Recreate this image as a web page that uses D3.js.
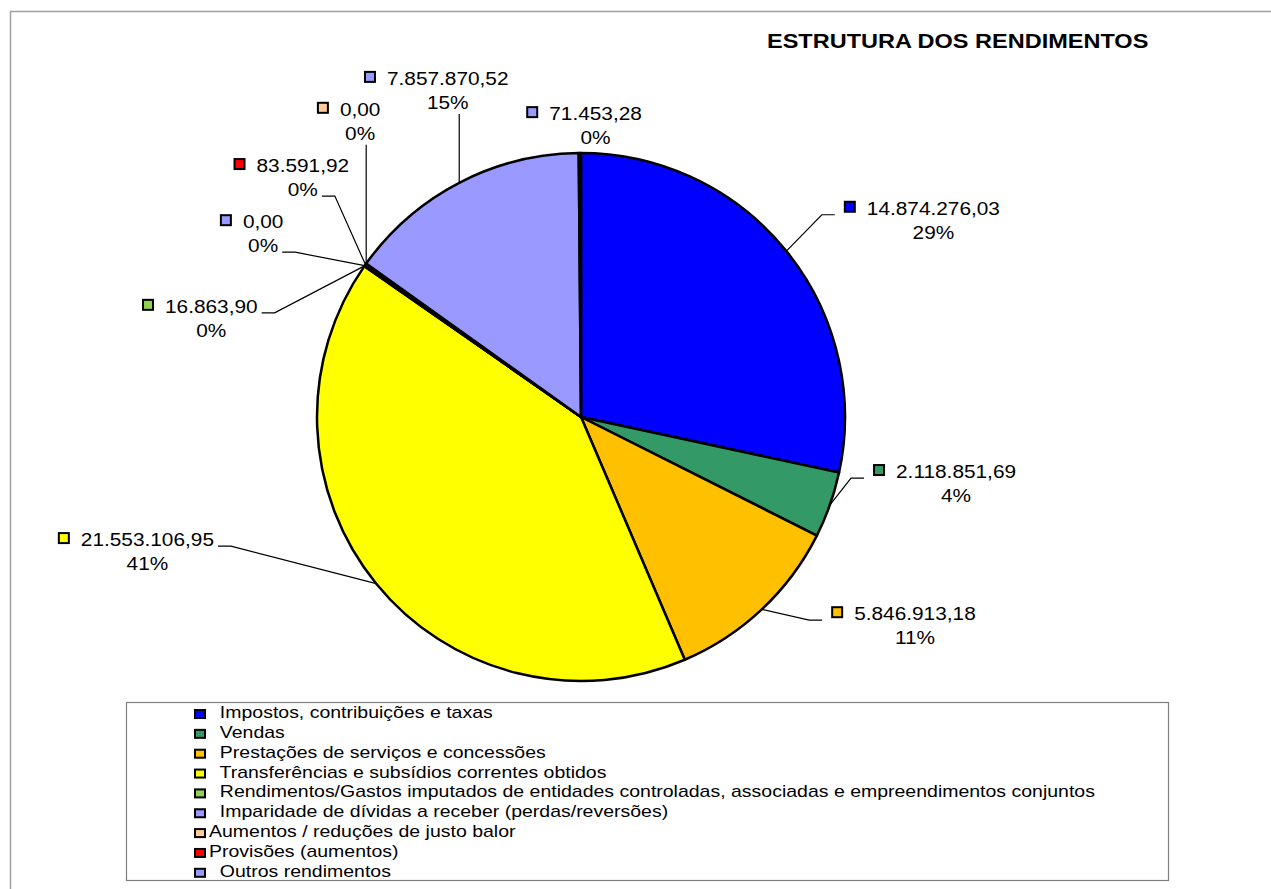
<!DOCTYPE html>
<html>
<head>
<meta charset="utf-8">
<script src="https://cdn.jsdelivr.net/npm/d3@7"></script>
<style>
  body { margin: 0; background: #fff; }
  svg text { font-family: "Liberation Sans", Arial, sans-serif; fill: #000; white-space: pre; }
</style>
</head>
<body>
<div id="chart"></div>
<script>

// slices, in the order they run round the pie (clockwise from 12 o'clock)
var sliceValues = [14874276.03, 2118851.69, 5846913.18, 21553106.95, 16863.90, 0.00, 83591.92, 0.00, 7857870.52, 71453.28];
var sliceColors = ["#0000FF", "#339966", "#FFC000", "#FFFF00", "#92D050", "#9999FF", "#FF0000", "#FFCC99", "#9999FF", "#9999FF"];

// legend entries (the legend box only shows nine of them)
var legendNames = [
    "  Impostos, contribuições e taxas",
    "  Vendas",
    "  Prestações de serviços e concessões",
    "  Transferências e subsídios correntes obtidos",
    "  Rendimentos/Gastos imputados de entidades controladas, associadas e empreendimentos conjuntos",
    "  Imparidade de dívidas a receber (perdas/reversões)",
    "Aumentos / reduções de justo balor",
    "Provisões (aumentos)",
    "  Outros rendimentos"
];
var legendColors = ["#0000FF", "#339966", "#FFC000", "#FFFF00", "#92D050", "#9999FF", "#FFCC99", "#FF0000", "#9999FF"];

var chartTitle = "ESTRUTURA DOS RENDIMENTOS";

// where each data label sits: angle (deg, clockwise from top) and distance in pie radii
var labelAngle = [60.2, 100.6, 123.1, 253.0, 284.3, 298.9, 309.4, 321.7, 336.0, 0.6];
var labelDist  = [1.488, 1.401, 1.458, 1.763, 1.490, 1.425, 1.420, 1.420, 1.348, 1.098];
// which text line a side leader meets (1 = value, 2 = percentage)
var labelHook  = [1, 1, 1, 1, 1, 2, 2, 1, 1, 1];

var params = {
    width: 1271, height: 889,
    cx: 581, cy: 417, radius: 264,
    sx: 1.12,          // text in the original is drawn a little wide
    labelSize: 18.6, legendSize: 17.4, titleSize: 21
};

var pt = d3.formatLocale({decimal: ",", thousands: ".", grouping: [3], currency: ["", ""]});
var fmt = pt.format(",.2f");

// excel style percentages: largest remainder so they add up to 100
function roundPercents(vals) {
    var total = d3.sum(vals);
    var raw = vals.map(function(v) { return v / total * 100; });
    var fl = raw.map(Math.floor);
    var left = 100 - d3.sum(fl);
    var order = d3.range(vals.length).sort(function(a, b) { return (raw[b] - fl[b]) - (raw[a] - fl[a]); });
    for (var i = 0; i < left; i++) fl[order[i]] += 1;
    return fl;
}

// text drawn through a horizontal stretch
function stext(parent, x, y, str, size, anchor, weight) {
    var g = parent.append("g")
        .attr("transform", "translate(" + x + "," + y + ") scale(" + params.sx + ",1)");
    return g.append("text")
        .attr("font-size", size)
        .attr("text-anchor", anchor || "start")
        .attr("font-weight", weight || "normal")
        .text(str);
}

var svg = d3.select("#chart")
    .append("svg")
    .attr("width", params.width)
    .attr("height", params.height);

// chart area border (runs off the right and bottom of the picture)
svg.append("rect")
    .attr("x", 10.5).attr("y", 11.5)
    .attr("width", params.width + 20).attr("height", params.height + 20)
    .attr("fill", "none")
    .attr("stroke", "#a0a0a0")
    .attr("stroke-width", 1.5);

stext(svg, 767, 48, chartTitle, params.titleSize, "start", "bold");

// pie
var pie = d3.pie().sort(null).value(function(d) { return d; });
var arcs = pie(sliceValues);
var arc = d3.arc().innerRadius(0).outerRadius(params.radius);
var rim = d3.arc().innerRadius(params.radius).outerRadius(params.radius);
var pcts = roundPercents(sliceValues);

var g = svg.append("g")
    .attr("transform", "translate(" + params.cx + "," + params.cy + ")");

g.selectAll(".slice")
    .data(arcs).enter()
    .append("path")
        .attr("class", "slice")
        .attr("d", arc)
        .attr("fill", function(d, i) { return sliceColors[i]; })
        .attr("stroke", "#000")
        .attr("stroke-width", 2.5)
        .attr("stroke-linejoin", "round");

// data labels + leaders
arcs.forEach(function(d, i) {
    var c = d3.pointRadial(labelAngle[i] * Math.PI / 180, labelDist[i] * params.radius);
    var lg = g.append("g").attr("class", "label");
    var valStr = fmt(sliceValues[i]);

    var tmp = stext(lg, 0, 0, valStr, params.labelSize);
    var vw = tmp.node().getComputedTextLength() * params.sx;
    tmp.node().parentNode.remove();

    var bw = 23 + vw;
    var left = c[0] - bw / 2, b1 = c[1] - 7, b2 = b1 + 24;

    lg.append("rect")
        .attr("x", left + 1).attr("y", b1 - 13)
        .attr("width", 10).attr("height", 10)
        .attr("fill", sliceColors[i])
        .attr("stroke", "#000")
        .attr("stroke-width", 2);
    stext(lg, left + 23, b1, valStr, params.labelSize);
    var ptxt = stext(lg, left + 23 + vw / 2, b2, pcts[i] + "%", params.labelSize, "middle");
    var pw = ptxt.node().getComputedTextLength() * params.sx;

    var p = rim.centroid(d);
    var pts = null;
    if (p[0] >= left && p[0] <= left + bw) {
        var bottom = b2 + 5;
        if (p[1] - bottom > 8) pts = [[p[0], bottom], p];
    } else if (p[0] > left + bw) {
        var y = labelHook[i] === 2 ? b2 : b1;
        var xr = labelHook[i] === 2 ? left + 23 + vw / 2 + pw / 2 : left + bw;
        pts = [[xr + 4, y], [xr + 17, y], p];
    } else {
        pts = [[left - 9, b1], [left - 22, b1], p];
    }
    if (pts) {
        lg.append("path")
            .attr("d", d3.line()(pts))
            .attr("fill", "none")
            .attr("stroke", "#000")
            .attr("stroke-width", 1.2);
    }
});

// legend
var legend = svg.append("g").attr("class", "legend");
legend.append("rect")
    .attr("x", 126.5).attr("y", 702.5)
    .attr("width", 1042).attr("height", 178)
    .attr("fill", "#fff")
    .attr("stroke", "#808080")
    .attr("stroke-width", 1.2);

legendNames.forEach(function(name, i) {
    var b = 718 + i * 19.85;
    legend.append("rect")
        .attr("x", 195).attr("y", b - 8)
        .attr("width", 10).attr("height", 8)
        .attr("fill", legendColors[i])
        .attr("stroke", "#000")
        .attr("stroke-width", 2);
    stext(legend, 209, b, name, params.legendSize);
});

</script>
</body>
</html>
